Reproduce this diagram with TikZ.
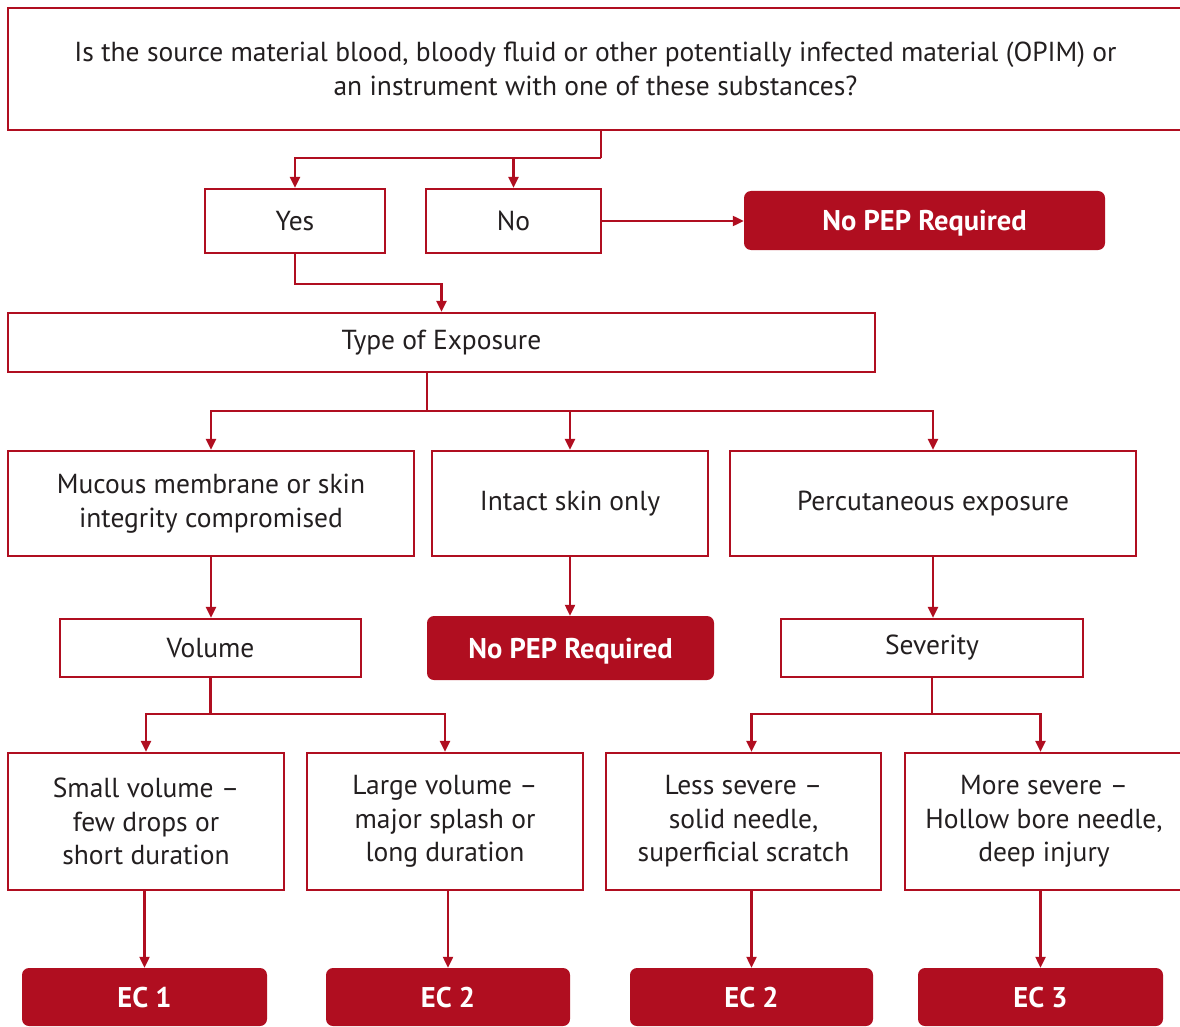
\documentclass[tikz,border=0pt]{standalone}
\usepackage{fontspec}
\setmainfont{PT Sans}
\usetikzlibrary{arrows.meta}
\definecolor{pepred}{RGB}{176,14,32}
\definecolor{txt}{RGB}{35,31,32}
\begin{document}
\begin{tikzpicture}[x=1pt,y=-1pt,
 box/.style={draw=pepred, line width=2.2pt, fill=white, inner sep=0pt, align=center, text=txt, font=\fontsize{27.5}{33.5}\selectfont},
 redbox/.style={fill=pepred, rounded corners=7pt, inner sep=0pt, text=white, text height=20pt, text depth=0pt, font=\bfseries\fontsize{28.5}{30}\selectfont},
 ln/.style={draw=pepred, line width=2.2pt},
 arr/.style={ln, -{Triangle[length=11pt,width=10pt]}}]
\useasboundingbox (0,0) rectangle (1180,1027);
\node[box, minimum width=1175pt, minimum height=122pt] (top) at (595.5,69) {Is the source material blood, bloody fluid or other potentially infected material (OPIM) or\\an instrument with one of these substances?};
\node[box, minimum width=180pt, minimum height=64pt] (yes) at (295,221) {Yes};
\node[box, minimum width=175pt, minimum height=64pt] (no) at (513.5,221) {No};
\node[redbox, minimum width=361pt, minimum height=59pt] (nopep1) at (924.5,220.5) {No PEP Required};
\node[box, minimum width=867pt, minimum height=59pt] (type) at (441.5,342.5) {Type of Exposure};
\node[box, minimum width=406pt, minimum height=105pt] (mucous) at (211,503.5) {Mucous membrane or skin\\integrity compromised};
\node[box, minimum width=276pt, minimum height=105pt] (intact) at (570,503.5) {Intact skin only};
\node[box, minimum width=406pt, minimum height=105pt] (percut) at (933,503.5) {Percutaneous exposure};
\node[box, minimum width=301pt, minimum height=58pt] (volume) at (210.5,648) {Volume};
\node[redbox, minimum width=287pt, minimum height=64pt] (nopep2) at (570.5,648) {No PEP Required};
\node[box, minimum width=302pt, minimum height=58pt] (severity) at (932,648) {Severity};
\node[box, minimum width=276pt, minimum height=137pt] (small) at (146,821.5) {Small volume --\\few drops or\\short duration};
\node[box, minimum width=276pt, minimum height=137pt] (large) at (445,821.5) {Large volume --\\major splash or\\long duration};
\node[box, minimum width=275pt, minimum height=137pt] (less) at (743.5,821.5) {Less severe --\\solid needle,\\superficial scratch};
\node[box, minimum width=278pt, minimum height=137pt] (more) at (1044,821.5) {More severe --\\Hollow bore needle,\\deep injury};
\node[redbox, minimum width=245pt, minimum height=58pt] (ec1) at (144.5,997) {EC 1};
\node[redbox, minimum width=244pt, minimum height=58pt] (ec2a) at (448,997) {EC 2};
\node[redbox, minimum width=243pt, minimum height=58pt] (ec2b) at (751.5,997) {EC 2};
\node[redbox, minimum width=245pt, minimum height=58pt] (ec3) at (1040.5,997) {EC 3};
% connectors
\coordinate (j1) at (601,158);
\draw[ln] (top.south -| j1) -- (j1);
\draw[arr] (j1) -| (yes.north);
\draw[arr] (j1 -| no) -- (no.north);
\draw[arr] (no.east) -- (no.east -| nopep1.west);
\coordinate (j2) at (295,284);
\draw[arr] (yes.south) -- (j2) -| (type.north);
\coordinate (j3) at (427,411);
\draw[ln] (type.south -| j3) -- (j3);
\draw[arr] (j3) -| (mucous.north);
\draw[arr] (j3) -| (percut.north);
\draw[arr] (j3 -| intact) -- (intact.north);
\draw[arr] (mucous.south) -- (mucous.south |- volume.north);
\draw[arr] (intact.south) -- (intact.south |- nopep2.north);
\draw[arr] (percut.south) -- (percut.south |- severity.north);
\coordinate (j4) at (210,714);
\draw[ln] (volume.south) -- (volume.south |- j4);
\draw[arr] (j4) -| (small.north);
\draw[arr] (j4) -| (large.north);
\coordinate (j5) at (934,714);
\draw[ln] (severity.south) -- (severity.south |- j5);
\draw[arr] (j5) -| (less.north -| ec2b);
\draw[arr] (j5) -| (more.north -| ec3);
\draw[arr] (small.south -| ec1) -- (ec1.north);
\draw[arr] (large.south -| ec2a) -- (ec2a.north);
\draw[arr] (less.south -| ec2b) -- (ec2b.north);
\draw[arr] (more.south -| ec3) -- (ec3.north);
\end{tikzpicture}
\end{document}
